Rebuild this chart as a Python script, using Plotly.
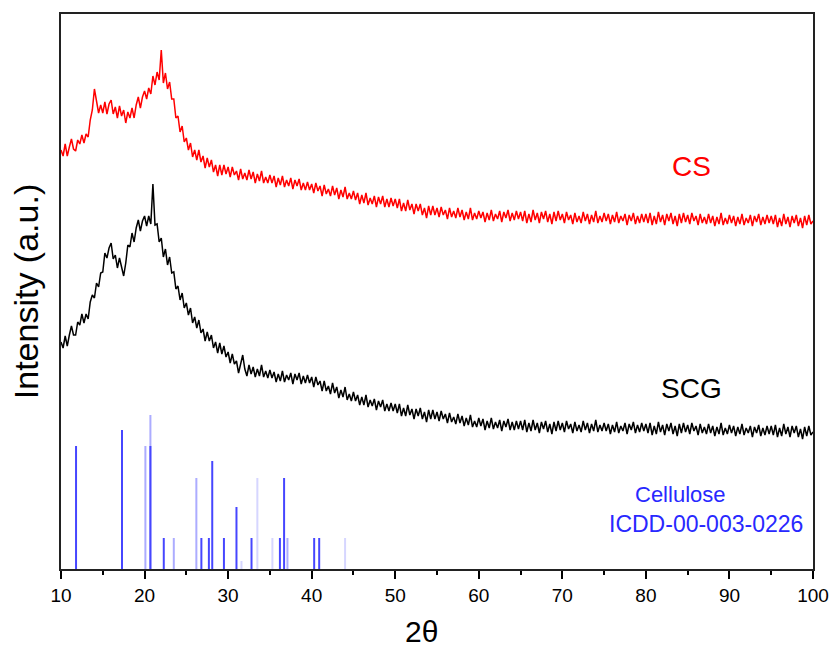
import numpy as np
import plotly.graph_objects as go

# ---- data: 2theta from 10 to 100 in steps of 0.25 deg; intensities in arbitrary units ----
cs_intensity = [
    419, 413, 425, 413, 422, 430, 420, 418, 429, 425, 434, 426, 435, 432, 449, 459, 480, 467, 456, 464,
    456, 467, 455, 465, 469, 455, 462, 451, 463, 453, 459, 446, 457, 451, 461, 451, 464, 472, 461, 472,
    478, 470, 481, 475, 493, 484, 497, 489, 519, 486, 496, 480, 487, 470, 470, 451, 453, 437, 443, 427,
    431, 419, 426, 412, 419, 409, 419, 407, 413, 401, 411, 402, 409, 397, 404, 393, 404, 394, 404, 395,
    402, 392, 402, 394, 398, 389, 400, 390, 396, 389, 399, 390, 397, 386, 395, 388, 398, 386, 392, 386,
    394, 386, 393, 382, 391, 384, 393, 382, 389, 383, 391, 380, 389, 383, 390, 379, 386, 379, 387, 379,
    385, 376, 386, 378, 383, 373, 384, 375, 380, 373, 383, 374, 381, 370, 379, 372, 382, 370, 376, 370,
    378, 369, 376, 365, 374, 366, 376, 364, 371, 365, 373, 362, 372, 365, 373, 362, 370, 362, 371, 363,
    370, 361, 370, 358, 366, 358, 369, 359, 365, 355, 365, 358, 365, 354, 361, 351, 363, 354, 363, 354,
    361, 352, 362, 354, 359, 350, 361, 352, 358, 351, 361, 352, 359, 349, 357, 350, 361, 349, 356, 350,
    358, 351, 357, 347, 356, 349, 359, 348, 355, 350, 358, 347, 357, 351, 359, 348, 356, 349, 358, 350,
    357, 348, 358, 346, 355, 347, 359, 349, 356, 346, 357, 350, 358, 347, 355, 345, 357, 348, 358, 349,
    355, 346, 357, 349, 354, 345, 356, 347, 353, 346, 357, 348, 355, 345, 354, 347, 358, 346, 353, 347,
    356, 348, 355, 345, 354, 347, 357, 346, 353, 348, 355, 344, 354, 348, 356, 345, 353, 346, 355, 347,
    355, 346, 356, 344, 353, 345, 357, 347, 354, 344, 355, 348, 356, 345, 353, 343, 355, 346, 356, 347,
    354, 345, 356, 348, 353, 344, 355, 346, 352, 345, 355, 346, 353, 343, 352, 345, 356, 344, 351, 345,
    354, 346, 353, 343, 352, 345, 355, 344, 351, 346, 354, 343, 353, 347, 355, 344, 352, 345, 354, 346,
    353, 345, 354, 342, 351, 343, 355, 345, 352, 342, 353, 346, 354, 343, 351, 341, 353, 344, 354, 345,
    348,
]
scg_intensity = [
    227, 221, 233, 223, 234, 243, 234, 234, 247, 244, 255, 246, 255, 250, 267, 274, 271, 286, 282, 296,
    297, 316, 311, 321, 326, 310, 314, 301, 311, 303, 293, 306, 324, 322, 336, 327, 341, 349, 338, 348,
    353, 343, 353, 345, 385, 344, 345, 327, 331, 312, 320, 304, 312, 296, 297, 280, 283, 269, 276, 261,
    266, 254, 261, 246, 252, 241, 249, 236, 240, 228, 237, 228, 234, 221, 227, 216, 226, 215, 223, 212,
    217, 206, 215, 205, 208, 196, 205, 214, 200, 193, 204, 195, 202, 192, 200, 193, 204, 192, 198, 191,
    199, 191, 197, 187, 195, 188, 198, 187, 194, 189, 196, 185, 195, 189, 196, 185, 193, 186, 194, 186,
    192, 182, 192, 184, 188, 178, 188, 178, 183, 175, 186, 176, 182, 171, 179, 172, 182, 169, 175, 168,
    177, 168, 174, 164, 172, 164, 174, 162, 169, 163, 170, 159, 168, 162, 169, 158, 165, 158, 166, 158,
    165, 156, 165, 153, 161, 153, 164, 154, 160, 150, 160, 153, 161, 150, 157, 147, 159, 150, 159, 150,
    157, 148, 158, 150, 155, 146, 156, 147, 152, 145, 155, 146, 153, 143, 151, 144, 154, 142, 148, 142,
    151, 143, 150, 139, 148, 141, 151, 140, 147, 141, 149, 138, 148, 142, 150, 139, 147, 139, 148, 140,
    148, 139, 149, 137, 146, 138, 149, 139, 146, 136, 147, 140, 148, 137, 145, 135, 147, 138, 148, 139,
    146, 137, 148, 140, 145, 136, 147, 138, 144, 137, 148, 139, 146, 136, 145, 138, 149, 137, 144, 138,
    146, 138, 145, 135, 144, 137, 147, 136, 143, 138, 146, 135, 145, 139, 147, 136, 144, 137, 146, 138,
    145, 136, 146, 134, 143, 135, 147, 137, 144, 134, 145, 138, 146, 135, 143, 133, 145, 136, 146, 137,
    144, 135, 146, 138, 143, 134, 145, 136, 142, 135, 145, 136, 143, 133, 142, 135, 146, 134, 141, 135,
    144, 136, 143, 133, 142, 135, 145, 134, 141, 136, 143, 132, 142, 136, 144, 133, 141, 134, 143, 135,
    143, 134, 144, 132, 141, 133, 145, 135, 142, 132, 143, 136, 143, 132, 140, 130, 142, 133, 143, 134,
    137,
]

# Cellulose reference pattern (ICDD-00-003-0226)
ref_positions = [11.8, 17.3, 20.1, 20.7, 20.7, 22.3, 23.5, 26.2, 26.8, 27.7, 28.1, 29.5,
                 31.0, 31.6, 32.8, 33.5, 35.3, 36.2, 36.7, 37.1, 40.3, 40.9, 44.0]
ref_heights = [123, 139, 123, 154, 123, 31, 31, 91, 31, 31, 108, 31,
               62, 8, 31, 91, 31, 31, 91, 31, 31, 31, 31]
ref_shade = ["dark", "dark", "light", "light", "dark", "dark", "light", "light", "dark", "dark", "dark", "dark",
             "dark", "pale", "dark", "pale", "pale", "dark", "dark", "light", "dark", "dark", "pale"]

x_ticks = [10, 20, 30, 40, 50, 60, 70, 80, 90, 100]

two_theta_cs = np.linspace(10, 100, len(cs_intensity))
two_theta_scg = np.linspace(10, 100, len(scg_intensity))

FONT = "Arial, Liberation Sans, sans-serif"

fig = go.Figure()

shade_colors = {"pale": "rgba(90,90,255,0.25)", "light": "rgba(90,90,255,0.5)", "dark": "rgb(70,70,255)"}
for shade in ["pale", "light", "dark"]:
    xs, ys = [], []
    for p, h, s in zip(ref_positions, ref_heights, ref_shade):
        if s == shade:
            xs += [p, p, None]
            ys += [0, h, None]
    fig.add_trace(go.Scatter(x=xs, y=ys, mode="lines",
                             line=dict(color=shade_colors[shade], width=2),
                             hoverinfo="skip", showlegend=False))

fig.add_trace(go.Scatter(x=two_theta_scg, y=scg_intensity, mode="lines",
                         line=dict(color="black", width=1.5), showlegend=False))
fig.add_trace(go.Scatter(x=two_theta_cs, y=cs_intensity, mode="lines",
                         line=dict(color="red", width=1.5), showlegend=False))

fig.add_annotation(x=85.5, y=403, text="CS", showarrow=False,
                   font=dict(family=FONT, size=28, color="red"))
fig.add_annotation(x=85.5, y=181, text="SCG", showarrow=False,
                   font=dict(family=FONT, size=28, color="black"))
fig.add_annotation(x=84.2, y=75, text="Cellulose", showarrow=False,
                   font=dict(family=FONT, size=22, color="rgb(40,40,255)"))
fig.add_annotation(x=87.2, y=45, text="ICDD-00-003-0226", showarrow=False,
                   font=dict(family=FONT, size=23, color="rgb(40,40,255)"))

# x-axis title placed as an annotation (slightly left of centre, as in the original)
fig.add_annotation(xref="paper", yref="paper", x=0.479, y=-0.1135, text="2θ",
                   showarrow=False, xanchor="center", yanchor="middle",
                   font=dict(family=FONT, size=30, color="black"))

fig.update_layout(
    width=832, height=652,
    margin=dict(l=61, r=19, t=14, b=83),
    paper_bgcolor="white", plot_bgcolor="white",
    font=dict(family=FONT, color="black"),
)
fig.update_xaxes(
    range=[10, 100], tickvals=x_ticks, ticktext=[str(v) for v in x_ticks],
    ticks="outside", ticklen=8, tickwidth=1.5, tickcolor="black",
    minor=dict(ticks="outside", ticklen=4, tickwidth=1.5, tickcolor="black", dtick=5),
    showline=True, linecolor="#222", linewidth=2, mirror=True,
    showgrid=False, zeroline=False, automargin=False,
    tickfont=dict(size=19, family=FONT),
)
fig.update_yaxes(
    range=[0, 555], showticklabels=False, ticks="",
    showline=True, linecolor="#222", linewidth=2, mirror=True,
    showgrid=False, zeroline=False, automargin=False,
    title=dict(text="Intensity (a.u.)", font=dict(size=34, family=FONT), standoff=10),
)

fig.write_html("out.html")
